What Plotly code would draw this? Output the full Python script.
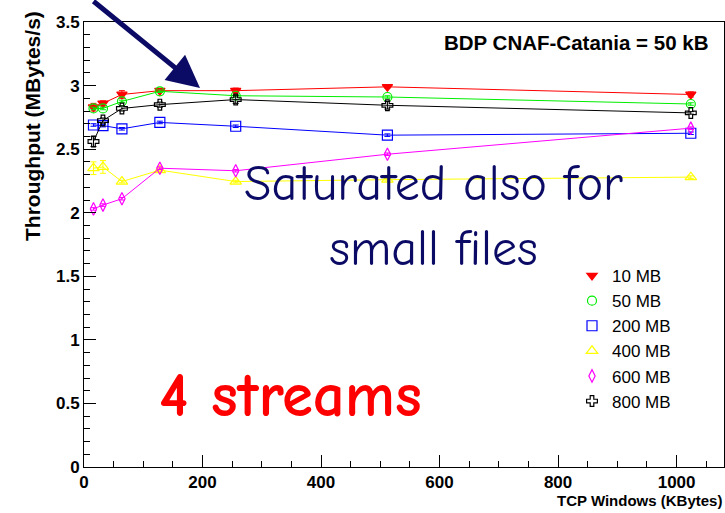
import plotly.graph_objects as go

# TCP window sizes (KBytes)
windows = [16, 32, 64, 128, 256, 512, 1024]

# Throughput (MBytes/s) per file size, 4 parallel streams
thr_10mb = [2.83, 2.86, 2.93, 2.96, 2.96, 2.99, 2.93]
thr_50mb = [2.82, 2.82, 2.875, 2.955, 2.92, 2.91, 2.855]
thr_200mb = [2.69, 2.685, 2.66, 2.71, 2.68, 2.61, 2.625]
thr_400mb = [2.35, 2.36, 2.245, 2.335, 2.245, 2.26, 2.28]
thr_600mb = [2.03, 2.06, 2.11, 2.35, 2.33, 2.46, 2.665]
thr_800mb = [2.56, 2.725, 2.82, 2.85, 2.89, 2.845, 2.785]

# Measurement errors (MBytes/s)
err_10mb = [0.03, 0.02, 0.03, 0.01, 0.02, 0.01, 0.02]
err_50mb = [0.01, 0.01, 0.01, 0.01, 0.01, 0.01, 0.01]
err_200mb = [0.01, 0.01, 0.01, 0.01, 0.01, 0.01, 0.01]
err_400mb = [0.05, 0.05, 0.01, 0.01, 0.01, 0.01, 0.01]
err_600mb = [0.01, 0.01, 0.01, 0.01, 0.01, 0.01, 0.01]
err_800mb = [0.04, 0.02, 0.02, 0.02, 0.03, 0.03, 0.01]

series_names = ["10 MB", "50 MB", "200 MB", "400 MB", "600 MB", "800 MB"]
series_values = [thr_10mb, thr_50mb, thr_200mb, thr_400mb, thr_600mb, thr_800mb]
series_errors = [err_10mb, err_50mb, err_200mb, err_400mb, err_600mb, err_800mb]
series_colors = ["#ff0000", "#00ee00", "#0000ff", "#ffff00", "#ff00ff", "#000000"]
series_symbols = ["triangle-down", "circle-open", "square-open",
                  "triangle-up-open", "diamond-tall-open", "cross-open"]
series_sizes = [9, 9, 10, 10, 9, 9]

W, H = 725, 513
L, R, T, B = 84, 1, 22, 46
PW, PH = W - L - R, H - T - B


def px(x):
    return (x - L) / PW


def py(y):
    return (H - B - y) / PH


fig = go.Figure()

for name, vals, errs, col, sym, sz in zip(series_names, series_values, series_errors,
                                          series_colors, series_symbols, series_sizes):
    fig.add_trace(go.Scatter(
        x=windows, y=vals, mode="lines", showlegend=False,
        line=dict(color=col, width=1), hoverinfo="skip"))
    fig.add_trace(go.Scatter(
        x=windows, y=vals, mode="markers", name=name,
        marker=dict(symbol=sym, color=col, size=sz, line=dict(color=col, width=1.2)),
        error_y=dict(type="data", array=errs, color=col, thickness=1, width=3)))

axis_font = dict(family="Liberation Sans, Arial", size=17, color="black", weight="bold")

fig.update_xaxes(
    range=[0, 1080], tickvals=[0, 200, 400, 600, 800, 1000],
    ticks="inside", ticklen=12, tickcolor="black", tickwidth=1,
    minor=dict(dtick=50, ticks="inside", ticklen=6, tickcolor="black"),
    showline=True, linecolor="black", linewidth=1, mirror=True,
    showgrid=False, zeroline=False, tickfont=axis_font)
fig.update_yaxes(
    range=[0, 3.5], dtick=0.5,
    ticks="inside", ticklen=12, tickcolor="black", tickwidth=1,
    minor=dict(dtick=0.1, ticks="inside", ticklen=6, tickcolor="black"),
    showline=True, linecolor="black", linewidth=1, mirror=True,
    showgrid=False, zeroline=False, tickfont=axis_font)

comic = "Comic Sans MS, Comic Neue, Lato"
annotations = [
    # axis titles
    dict(text="Throughput (MBytes/s)", x=px(32), y=py(9), xanchor="center", yanchor="top",
         textangle=-90, font=dict(family="Liberation Sans, Arial", size=21, weight="bold")),
    dict(text="TCP Windows (KBytes)", x=px(724), y=py(500), xanchor="right", yanchor="middle",
         font=dict(family="Liberation Sans, Arial", size=15, weight="bold")),
    # header
    dict(text="BDP CNAF-Catania = 50 kB", x=px(711), y=py(42), xanchor="right", yanchor="middle",
         font=dict(family="Liberation Sans, Arial", size=20.5, weight="bold")),
    # comments
    dict(text="Saturated also for<br>small files", x=px(433), y=py(216),
         xanchor="center", yanchor="middle", align="center",
         font=dict(family=comic, size=50, color="#0b0b66")),
    dict(text="4 streams", x=px(290), y=py(395), xanchor="center", yanchor="middle",
         font=dict(family=comic, size=63, color="#ff0000", weight="bold")),
    # pointer
    dict(text="", x=px(200), y=py(88), ax=-108, ay=-96, showarrow=True,
         arrowhead=2, arrowsize=1.3, arrowwidth=5, arrowcolor="#0b0b66", standoff=0),
]
for a in annotations:
    a.setdefault("xref", "paper")
    a.setdefault("yref", "paper")
    a.setdefault("showarrow", False)

fig.update_layout(
    width=W, height=H,
    margin=dict(l=L, r=R, t=T, b=B),
    plot_bgcolor="white", paper_bgcolor="white",
    font=dict(family="Liberation Sans, Arial", color="black"),
    annotations=annotations,
    legend=dict(x=px(572), y=py(258), xanchor="left", yanchor="top",
                bgcolor="rgba(255,255,255,0)",
                font=dict(family="Liberation Sans, Arial", size=17, color="black"),
                itemwidth=30, tracegroupgap=0),
)

fig.write_html("out.html")
